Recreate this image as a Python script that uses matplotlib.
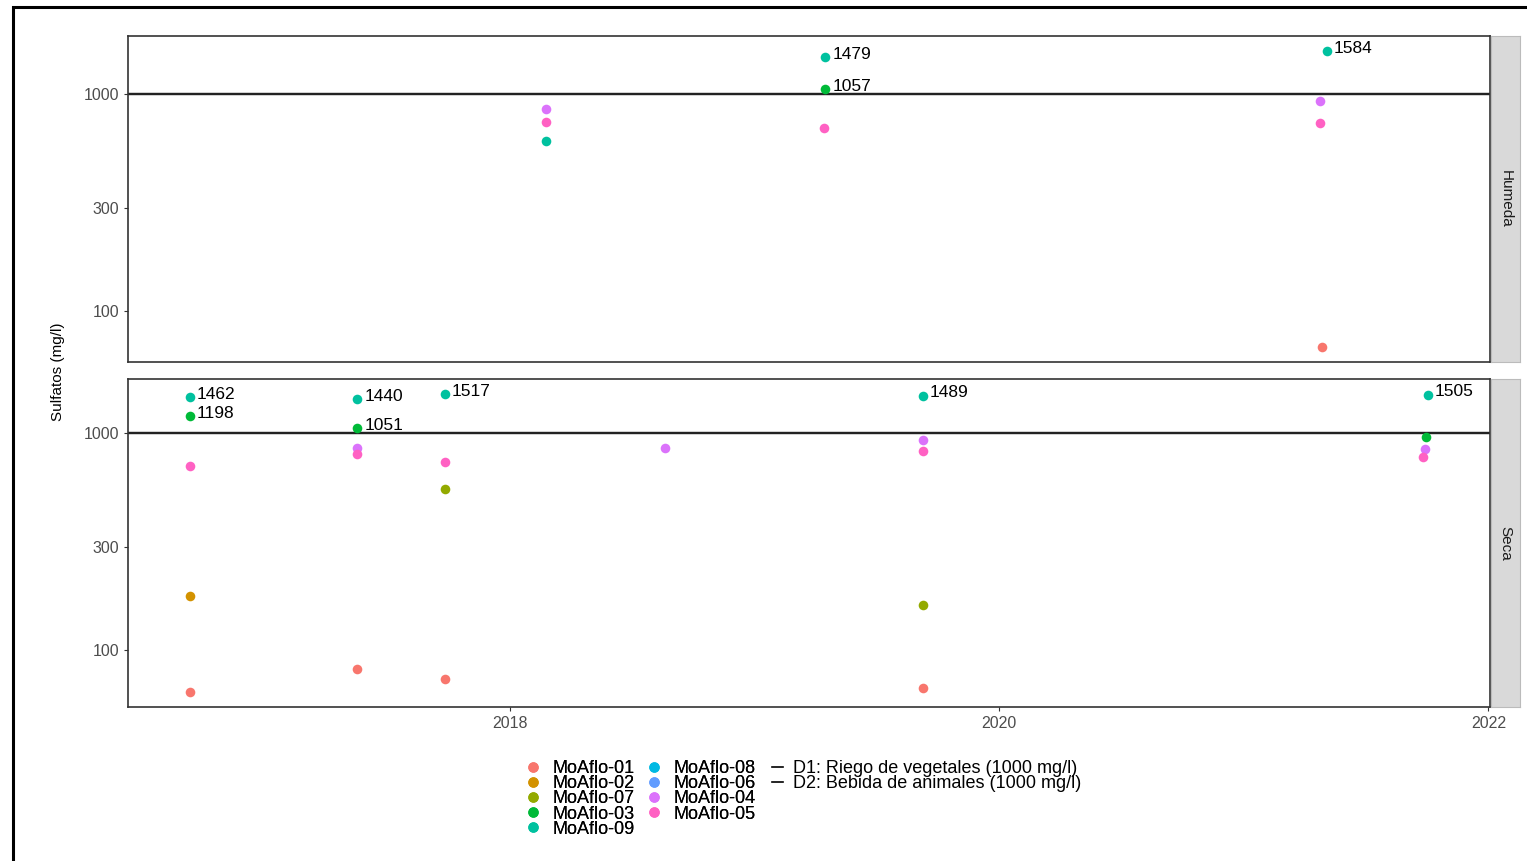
import pandas as pd
import numpy as np
import matplotlib
matplotlib.use("Agg")
import matplotlib.pyplot as plt
import matplotlib.dates as mdates
from matplotlib.lines import Line2D
from matplotlib.patches import Rectangle

plt.rcParams['font.family'] = ['Liberation Sans', 'DejaVu Sans']

# estaciones y colores (paleta hue de ggplot)
stations = ["MoAflo-01", "MoAflo-02", "MoAflo-07", "MoAflo-03", "MoAflo-09",
            "MoAflo-08", "MoAflo-06", "MoAflo-04", "MoAflo-05"]
colors = ["#F8766D", "#D39200", "#93AA00", "#00BA38", "#00C19F",
          "#00B9E3", "#619CFF", "#DB72FB", "#FF61C3"]

# temporada humeda
hum_dates = ["2018-02-24", "2018-02-24", "2018-02-24",
             "2019-04-17", "2019-04-17", "2019-04-15",
             "2021-05-05", "2021-04-25", "2021-04-25", "2021-04-27"]
hum_station = ["MoAflo-04", "MoAflo-05", "MoAflo-09",
               "MoAflo-09", "MoAflo-03", "MoAflo-05",
               "MoAflo-09", "MoAflo-04", "MoAflo-05", "MoAflo-01"]
hum_values = [854, 745, 610,
              1479, 1057, 700,
              1584, 929, 738, 68.5]

# temporada seca
sec_dates = ["2016-09-10", "2016-09-10", "2016-09-10", "2016-09-10", "2016-09-10",
             "2017-05-18", "2017-05-18", "2017-05-18", "2017-05-18", "2017-05-18",
             "2017-09-26", "2017-09-26", "2017-09-26", "2017-09-26",
             "2018-08-20",
             "2019-09-09", "2019-09-09", "2019-09-09", "2019-09-09", "2019-09-09",
             "2021-10-03", "2021-09-30", "2021-09-28", "2021-09-25"]
sec_station = ["MoAflo-09", "MoAflo-03", "MoAflo-05", "MoAflo-02", "MoAflo-01",
               "MoAflo-09", "MoAflo-03", "MoAflo-04", "MoAflo-05", "MoAflo-01",
               "MoAflo-09", "MoAflo-05", "MoAflo-07", "MoAflo-01",
               "MoAflo-04",
               "MoAflo-09", "MoAflo-04", "MoAflo-05", "MoAflo-07", "MoAflo-01",
               "MoAflo-09", "MoAflo-03", "MoAflo-04", "MoAflo-05"]
sec_values = [1462, 1198, 706, 177, 64,
              1440, 1051, 853, 802, 81.8,
              1517, 736, 553, 73.6,
              853,
              1489, 929, 827, 162, 67,
              1505, 959, 844, 776]

limit = 1000
limit_labels = ["D1: Riego de vegetales (1000 mg/l)", "D2: Bebida de animales (1000 mg/l)"]

hum = pd.DataFrame({"fecha": pd.to_datetime(hum_dates), "estacion": hum_station, "valor": hum_values})
sec = pd.DataFrame({"fecha": pd.to_datetime(sec_dates), "estacion": sec_station, "valor": sec_values})
color_map = dict(zip(stations, colors))

W, H = 1527, 861
fig = plt.figure(figsize=(W / 100, H / 100), dpi=100)

def px(x0, y0, x1, y1):
    return [x0 / W, 1 - y1 / H, (x1 - x0) / W, (y1 - y0) / H]

ax1 = fig.add_axes(px(128, 36, 1490, 362))
ax2 = fig.add_axes(px(128, 379, 1490, 707), sharex=ax1)

# limites x con expansion del 5%
all_dates = mdates.date2num(pd.concat([hum.fecha, sec.fecha]))
dr = all_dates.max() - all_dates.min()
xlim = (all_dates.min() - 0.05 * dr, all_dates.max() + 0.05 * dr)

for ax, df in [(ax1, hum), (ax2, sec)]:
    ax.set_yscale("log")
    lv = np.log10(df.valor)
    r = lv.max() - lv.min()
    ax.set_ylim(10 ** (lv.min() - 0.05 * r), 10 ** (lv.max() + 0.05 * r))
    ax.set_xlim(xlim)
    ax.axhline(limit, color="#222222", lw=1.6, zorder=1)
    ax.axhline(limit, color="#222222", lw=1.6, zorder=1)
    for st in stations:
        d = df[df.estacion == st]
        ax.scatter(d.fecha, d.valor, s=48, color=color_map[st], zorder=3, linewidths=0)
    for _, row in df[df.valor > limit].iterrows():
        ax.annotate(str(int(row.valor)), (mdates.date2num(row.fecha), row.valor),
                    xytext=(5, 2), textcoords="offset points", ha="left", va="center",
                    fontsize=12.5, color="black")
    ax.set_yticks([100, 300, 1000])
    ax.set_yticklabels(["100", "300", "1000"])
    ax.yaxis.set_minor_locator(matplotlib.ticker.NullLocator())
    ax.tick_params(axis="both", colors="#333333", labelcolor="#4D4D4D", labelsize=11.5, length=3)
    for s in ax.spines.values():
        s.set_color("#333333")
        s.set_linewidth(1.2)
    ax.grid(False)

ax1.tick_params(axis="x", length=0, labelbottom=False)
ax2.xaxis.set_major_locator(mdates.YearLocator(2))
ax2.xaxis.set_major_formatter(mdates.DateFormatter("%Y"))

# tiras laterales
for (y0, y1, name) in [(36, 362, "Humeda"), (379, 707, "Seca")]:
    sax = fig.add_axes(px(1491, y0, 1520, y1))
    sax.set_facecolor("#D9D9D9")
    sax.set_xticks([])
    sax.set_yticks([])
    for s in sax.spines.values():
        s.set_color("#BBBBBB")
    sax.text(0.5, 0.5, name, rotation=270, ha="center", va="center",
             fontsize=11, color="#1A1A1A", transform=sax.transAxes)

fig.text(58 / W, 1 - 372 / H, "Sulfatos (mg/l)", rotation=90, ha="center", va="center",
         fontsize=11, color="black")

# leyendas
handles = [Line2D([], [], marker="o", ls="", color=c, markersize=6.5) for c in colors]
leg1 = fig.legend(handles, stations, ncol=2, loc="upper left",
                  bbox_to_anchor=(515 / W, 1 - 751 / H), frameon=False, fontsize=13,
                  labelspacing=-0.1, handletextpad=0.55, columnspacing=0.6,
                  handlelength=1.0, borderpad=0)
lh = [Line2D([], [], color="black", lw=1.2) for _ in limit_labels]
fig.legend(lh, limit_labels, loc="upper left", bbox_to_anchor=(763 / W, 1 - 751 / H),
           frameon=False, fontsize=13, labelspacing=-0.1, handlelength=0.6,
           handletextpad=0.55, borderpad=0)
fig.add_artist(leg1)

# marco exterior
fig.patches.append(Rectangle((13 / W, -0.02), 1.1, 1 - 7 / H + 0.02, transform=fig.transFigure,
                             fill=False, edgecolor="black", lw=2.2))

fig.savefig("out.png", dpi=100)
